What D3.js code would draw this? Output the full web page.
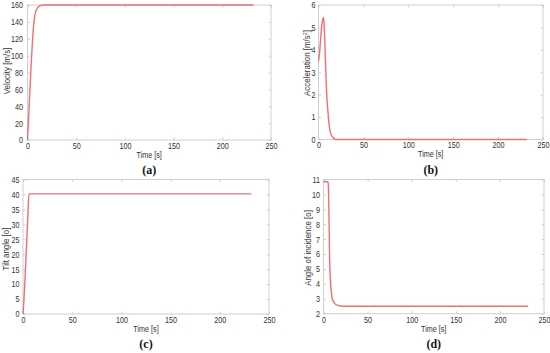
<!DOCTYPE html>
<html><head><meta charset="utf-8">
<script src="https://cdn.jsdelivr.net/npm/d3@7"></script>
<style>
body{margin:0;background:#fff;}
svg{display:block;font-family:"Liberation Sans",Arial,sans-serif;}
</style></head>
<body>
<svg id="c" width="550" height="353"></svg>
<script>
// ---- data ----
const velTime = [0,1,2,3,4,5,6,7,8,10,12,14,17,20,25,40,100,232];
const velValue = [0,22,47,72,95,115,132,143,150,156,158.5,159.5,160,160,160,160,160,160];

const accTime = [0,1,2,3,4,5,5.5,6,7,8,9,10,11,12,13,15,17,20,25,232];
const accValue = [3.5,3.8,4.3,4.8,5.2,5.4,5.45,5.3,4.4,3.2,2.1,1.5,1.0,0.6,0.35,0.15,0.05,0.0,0.0,0.0];

const tiltTime = [0,1,2,3,4,5,6,232];
const tiltValue = [0,5,11.5,18.5,26,33,40.2,40.2];

const aoiTime = [0,5,5.5,6,6.5,7,8,9,10,12,14,17,20,25,232];
const aoiValue = [10.85,10.85,10.6,9.3,7.4,5.6,4.1,3.4,3.0,2.75,2.62,2.55,2.52,2.5,2.5];

const xTicks = [0,50,100,150,200,250];
const velTicks = [0,20,40,60,80,100,120,140,160];
const accTicks = [0,1,2,3,4,5,6];
const tiltTicks = [0,5,10,15,20,25,30,35,40,45];
const aoiTicks = [2,3,4,5,6,7,8,9,10,11];

const svg = d3.select("#c");
const LINE = "#ef6f74", FRAME = "#cfcfcf", TXT = "#333";
const SQ = 0.8;

function squeeze(sel){
  sel.each(function(){
    const t = d3.select(this);
    const x = +t.attr("x")||0, y = +t.attr("y")||0;
    t.attr("transform",`translate(${x},${y}) scale(${SQ},1) translate(${-x},${-y})`);
  });
}

function panel(o){
  const x = d3.scaleLinear().domain([0,250]).range([o.x0,o.x1]);
  const y = d3.scaleLinear().domain(o.ydom).range([o.y1,o.y0]);
  const g = svg.append("g");
  g.append("rect").attr("x",o.x0).attr("y",o.y0).attr("width",o.x1-o.x0).attr("height",o.y1-o.y0)
    .attr("fill","none").attr("stroke",FRAME).attr("stroke-width",1);
  const tl = 2.5;
  const bx = g.append("g").attr("transform",`translate(0,${o.y1})`)
    .call(d3.axisBottom(x).tickValues(xTicks).tickSize(-tl).tickPadding(2.5).tickFormat(d3.format("d")));
  const tx = g.append("g").attr("transform",`translate(0,${o.y0})`)
    .call(d3.axisTop(x).tickValues(xTicks).tickSize(-tl).tickFormat(""));
  const ly = g.append("g").attr("transform",`translate(${o.x0},0)`)
    .call(d3.axisLeft(y).tickValues(o.yticks).tickSize(-tl).tickPadding(o.pad).tickFormat(d3.format("d")));
  const ry = g.append("g").attr("transform",`translate(${o.x1},0)`)
    .call(d3.axisRight(y).tickValues(o.yticks).tickSize(-tl).tickFormat(""));
  [bx,tx,ly,ry].forEach(a=>{
    a.select(".domain").remove();
    a.selectAll("line").attr("stroke",FRAME);
    a.selectAll("text").attr("fill",TXT).style("font-size","9px").style("font-family","'Liberation Sans',Arial,sans-serif");
  });
  squeeze(bx.selectAll("text"));
  squeeze(ly.selectAll("text"));
  const data = o.t.map((t,i)=>[t,o.v[i]]);
  g.append("path").datum(data)
    .attr("d",d3.line().x(d=>x(d[0])).y(d=>y(d[1])).curve(d3.curveMonotoneX))
    .attr("fill","none").attr("stroke",LINE).attr("stroke-width",1.4);
  const xl = g.append("text").attr("x",(o.x0+o.x1)/2).attr("y",o.y1+18).attr("text-anchor","middle")
    .attr("fill",TXT).style("font-size","9px").text("Time [s]");
  squeeze(xl);
  const yl = g.append("text").attr("transform",`translate(${o.ylx},${o.yly}) rotate(-90) scale(0.88,1)`)
    .attr("text-anchor","middle").attr("fill",TXT).style("font-size","9px");
  o.ylab(yl);
  g.append("text").attr("x",(o.x0+o.x1)/2).attr("y",o.y1+34).attr("text-anchor","middle")
    .style("font-family","'Liberation Serif','Times New Roman',serif").style("font-size","12px")
    .attr("font-weight","bold").attr("fill","#111").text(`(${o.cap})`);
}

panel({x0:27.5,x1:271,y0:5,y1:140,ydom:[0,160],yticks:velTicks,t:velTime,v:velValue,ylx:9.5,yly:71,pad:4.5,
  ylab:s=>s.text("Velocity [m/s]"),cap:"a"});
panel({x0:318.5,x1:543,y0:5,y1:139.5,ydom:[0,6],yticks:accTicks,t:accTime,v:accValue,ylx:310,yly:63,pad:3,
  ylab:s=>{s.append("tspan").text("Acceleration  [m/s");s.append("tspan").attr("dy",-3).style("font-size","6px").text("2");s.append("tspan").attr("dy",3).text("]");},cap:"b"});
panel({x0:23,x1:269,y0:179.5,y1:314,ydom:[0,45],yticks:tiltTicks,t:tiltTime,v:tiltValue,ylx:8.5,yly:249,pad:3.5,
  ylab:s=>s.text("Tilt angle [o]"),cap:"c"});
panel({x0:323.5,x1:544,y0:179.5,y1:313.7,ydom:[2,11],yticks:aoiTicks,t:aoiTime,v:aoiValue,ylx:311,yly:248,pad:3.5,
  ylab:s=>s.text("Angle of incidence [o]"),cap:"d"});
</script>
</body></html>
